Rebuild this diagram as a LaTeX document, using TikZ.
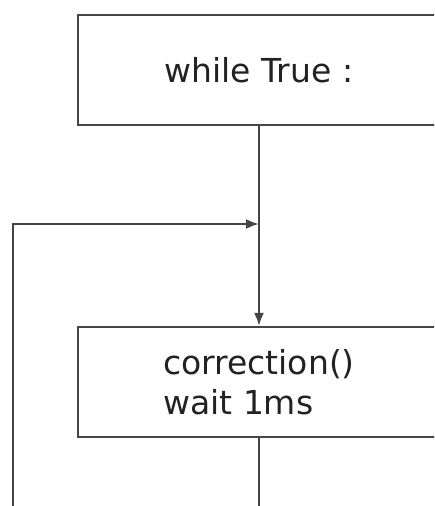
\documentclass[tikz,border=0pt]{standalone}
\usepackage{fontspec}
\setmainfont{DejaVu Sans}
\usetikzlibrary{arrows.meta}
\definecolor{edge}{HTML}{454545}
\definecolor{ink}{HTML}{222222}
\tikzset{
  block/.style={draw=edge, line width=2.2pt, fill=white, minimum width=362pt,
    minimum height=110pt, inner sep=0pt, text=ink, align=left,
    font=\fontsize{33}{40}\selectfont},
  flow/.style={draw=edge, line width=2.2pt},
  tip/.style={-{Latex[length=13pt,width=10pt]}},
}
\begin{document}
\begin{tikzpicture}[x=1pt,y=1pt]
  \useasboundingbox (0,0) rectangle (434,506);
  \clip (0,0) rectangle (434,506);
  \fill[white] (0,0) rectangle (434,506);

  \node[block] (loop) at (259,436) {while True :};
  \node[block] (body) at (259,124) {correction()\\wait 1ms};

  \coordinate (join) at (259,282);
  \coordinate (back) at (13,282);
  \coordinate (backend) at (13,0);
  \coordinate (out) at (259,0);

  \draw[flow, tip] (loop.south) -- (body.north);
  \draw[flow, tip] (backend) -- (back) -- (join);
  \draw[flow] (body.south) -- (out);
\end{tikzpicture}
\end{document}
